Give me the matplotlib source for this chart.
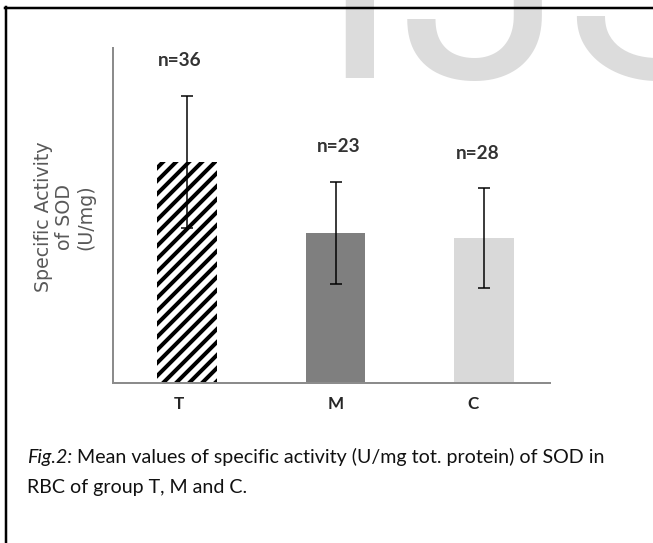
import matplotlib
matplotlib.use('Agg')
import matplotlib.pyplot as plt
from matplotlib.lines import Line2D

# ---- data ----
groups = ['T', 'M', 'C']
means = [6.6, 4.48, 4.33]
sds = [1.98, 1.52, 1.49]
n_labels = ['n=36', 'n=23', 'n=28']
ylabel = 'Specific Activity\nof SOD\n(U/mg)'
caption_italic = 'Fig.2:'
caption_line1 = ' Mean values of specific activity (U/mg tot. protein) of SOD in'
caption_line2 = 'RBC of group T, M and C.'
watermark = 'IJSER'

# ---- layout / style ----
W, H, DPI = 653, 543, 78
def pt(px):
    return px * 72.0 / DPI

bar_colors = ['white', '#7f7f7f', '#d9d9d9']
bar_hatches = ['//', '', '']
tick_offsets = [-0.054, 0.0, -0.074]
nlabel_dx = [-7, 3, -6]

plt.rcParams['hatch.linewidth'] = pt(4.0)
plt.rcParams['hatch.color'] = 'black'

fig = plt.figure(figsize=(W / DPI, H / DPI), dpi=DPI)
fig.patch.set_facecolor('white')

# watermark
fig.text(318 / W, 1 - 78 / H, watermark, fontsize=pt(300), family='Roboto',
         color='#dcdcdc', va='baseline', ha='left', zorder=0)

ax = fig.add_axes([113 / W, 1 - 383 / H, (550 - 113) / W, (383 - 48) / H])
ax.patch.set_alpha(0)
xs = list(range(len(groups)))
bars = ax.bar(xs, means, width=0.4, color=bar_colors, edgecolor='black',
              linewidth=0, zorder=2)
for b, h in zip(bars, bar_hatches):
    b.set_hatch(h)
ax.errorbar(xs, means, yerr=sds, fmt='none', ecolor='black', elinewidth=pt(1.5),
            capsize=pt(6), capthick=pt(1.5), zorder=3)

for i, (lab, m, s) in enumerate(zip(n_labels, means, sds)):
    ax.annotate(lab, xy=(i, m + s), xytext=(nlabel_dx[i], 35), textcoords='offset pixels',
                ha='center', va='center', fontsize=pt(19), fontweight='bold',
                family='Lato', color='#333333')

ax.set_xlim(-0.498, 2.444)
ax.set_ylim(0, 10)
for sp in ['top', 'right']:
    ax.spines[sp].set_visible(False)
for sp in ['left', 'bottom']:
    ax.spines[sp].set_color('#8c8c8c')
    ax.spines[sp].set_linewidth(pt(2))
ax.set_yticks([])
ax.set_xticks([x + o for x, o in zip(xs, tick_offsets)])
ax.set_xticklabels(groups, fontsize=pt(17), fontweight='bold', family='Lato', color='#262626')
ax.tick_params(axis='x', length=0, pad=pt(13))

fig.text(65 / W, 1 - 217 / H, ylabel, rotation=90, ha='center', va='center',
         multialignment='center', linespacing=1.15, fontsize=pt(19), family='DejaVu Sans',
         color='#595959')

# caption
r = fig.canvas.get_renderer()
cap_fs = pt(19.65)
t1 = fig.text(27 / W, 1 - 463 / H, caption_italic, fontsize=cap_fs, family='Lato',
              style='italic', color='#111111', va='baseline', ha='left')
bb = t1.get_window_extent(renderer=r)
fig.text(bb.x1 / W, 1 - 463 / H, caption_line1, fontsize=cap_fs, family='Lato',
         color='#111111', va='baseline', ha='left')
fig.text(27 / W, 1 - 493 / H, caption_line2, fontsize=cap_fs, family='Lato',
         color='#111111', va='baseline', ha='left')

# border
fig.add_artist(Line2D([5 / W, 1], [1 - 8 / H, 1 - 8 / H], transform=fig.transFigure,
                      color='black', lw=pt(2.5)))
fig.add_artist(Line2D([6 / W, 6 / W], [1 - 7 / H, 0], transform=fig.transFigure,
                      color='black', lw=pt(2.5)))

fig.savefig('out.png', dpi=DPI)
